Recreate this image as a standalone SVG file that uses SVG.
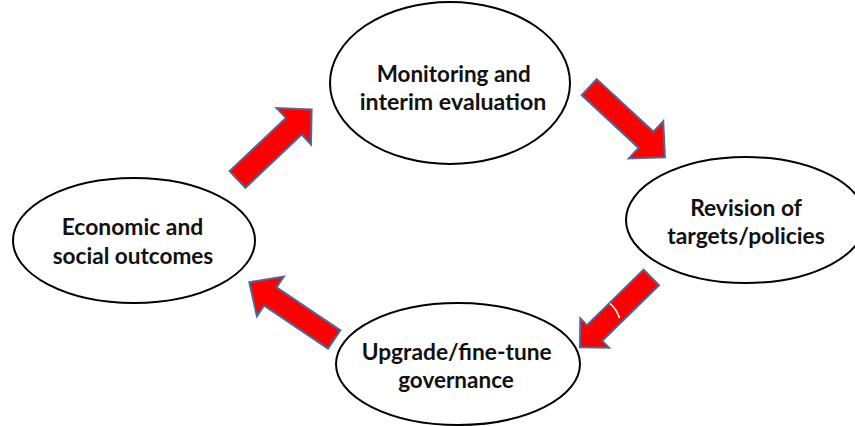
<svg xmlns="http://www.w3.org/2000/svg" width="855" height="426" viewBox="0 0 855 426">
<style>
.node ellipse{fill:#fff;stroke:#000;stroke-width:2}
.node text{font-family:Lato,"Open Sans","Liberation Sans",sans-serif;font-weight:bold;font-size:22px;fill:#111;text-anchor:middle}
.arrow{fill:#ff0000;stroke:#4a6a9a;stroke-width:2;stroke-linejoin:miter}
</style>
<rect width="855" height="426" fill="#fff"/>
<g id="connectors">
<polygon class="arrow" transform="translate(237.5,179.5) rotate(-43.4)" points="0,-11.5 77.5,-11.5 77.5,-25 102,0 77.5,25 77.5,11.5 0,11.5"/>
<polygon class="arrow" transform="translate(589.2,87.2) rotate(42.8)" points="0,-11 77.5,-11 77.5,-25.3 103.2,0 77.5,25.3 77.5,11 0,11"/>
<polygon class="arrow" transform="translate(651.3,277.5) rotate(135.6)" points="0,-11 79.3,-11 79.3,-20.5 99.8,0 79.3,20.5 79.3,11 0,11"/>
<path d="M610,303.5 Q616.5,309 619.5,318" fill="none" stroke="#fff" stroke-width="1.6"/>
<polygon class="arrow" transform="translate(334.2,339.5) rotate(-146)" points="0,-11 77,-11 77,-24 102.4,0 77,24 77,11 0,11"/>
</g>
<g id="node-monitoring" class="node">
<ellipse cx="450" cy="83" rx="120" ry="81"/>
<text x="453.7" y="82" textLength="154" lengthAdjust="spacingAndGlyphs">Monitoring and</text>
<text x="453" y="110" textLength="186.7" lengthAdjust="spacingAndGlyphs">interim evaluation</text>
</g>
<g id="node-revision" class="node">
<ellipse cx="746" cy="220" rx="120" ry="63"/>
<text x="746" y="215.5" textLength="111.7" lengthAdjust="spacingAndGlyphs">Revision of</text>
<text x="746" y="244" textLength="157.7" lengthAdjust="spacingAndGlyphs">targets/policies</text>
</g>
<g id="node-upgrade" class="node">
<ellipse cx="458" cy="364" rx="122" ry="61"/>
<text x="456.7" y="360" textLength="190" lengthAdjust="spacingAndGlyphs">Upgrade/fine-tune</text>
<text x="456" y="387.5" textLength="115.7" lengthAdjust="spacingAndGlyphs">governance</text>
</g>
<g id="node-economic" class="node">
<ellipse cx="134" cy="240.5" rx="121" ry="62.5"/>
<text x="132.5" y="235" textLength="141.6" lengthAdjust="spacingAndGlyphs">Economic and</text>
<text x="133" y="264" textLength="160.6" lengthAdjust="spacingAndGlyphs">social outcomes</text>
</g>
</svg>
